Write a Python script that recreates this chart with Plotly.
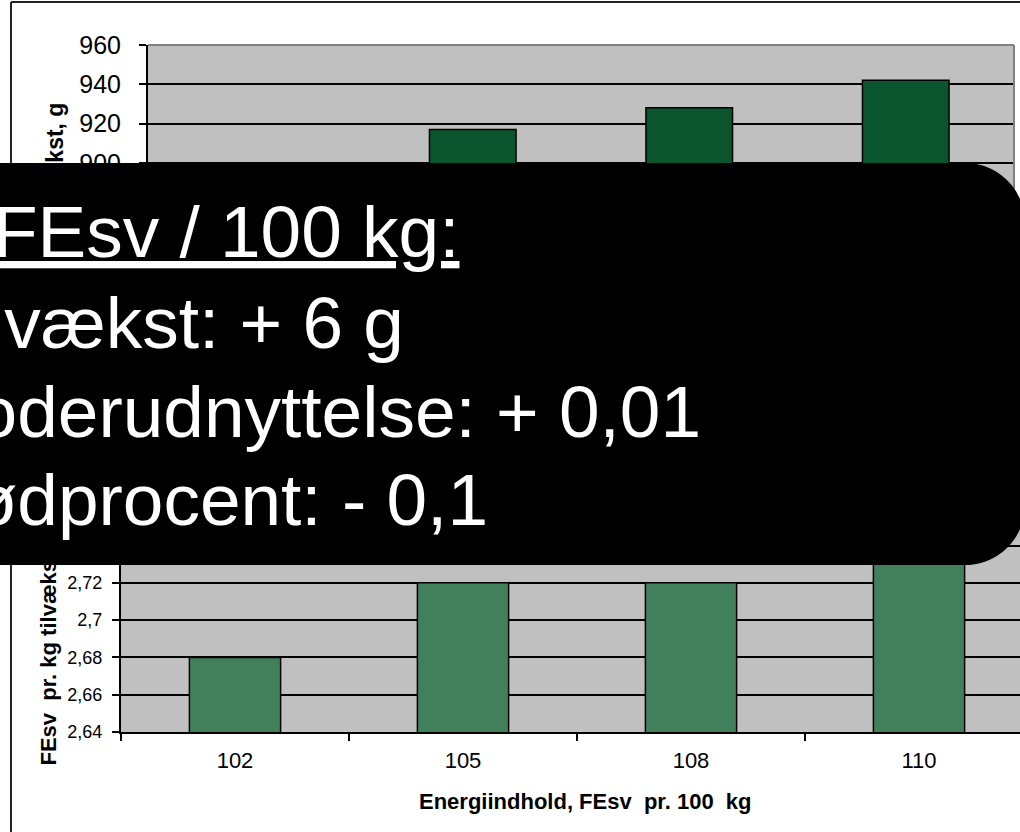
import plotly.graph_objects as go

W, H = 1020, 832

# ---- data ----
categories = ["102", "105", "108", "110"]
daily_gain = [894, 917, 928, 942]          # Daglig tilvækst, g
feed_per_kg = [2.68, 2.72, 2.72, 2.75]     # FEsv pr. kg tilvækst

gain_tickvals = [880, 900, 920, 940, 960]
feed_tickvals = [2.64, 2.66, 2.68, 2.70, 2.72, 2.74, 2.76, 2.78]
feed_ticktext = ["2,64", "2,66", "2,68", "2,7", "2,72", "2,74", "2,76", "2,78"]

top_ytitle = "Daglig tilvækst, g"
bottom_ytitle = "FEsv\u00a0 pr. kg tilvækst"
xtitle = "Energiindhold, FEsv\u00a0 pr. 100\u00a0 kg"

box_lines = [
    "<u>1 FEsv / 100 kg:</u>",
    "Tilvækst: + 6 g",
    "Foderudnyttelse: + 0,01",
    "Kødprocent: - 0,1",
]

FONT = "Liberation Sans, Arial, sans-serif"


def px(x):
    return x / W


def py(y):
    return 1 - y / H


fig = go.Figure()
fig.add_trace(go.Bar(x=categories, y=daily_gain, xaxis="x", yaxis="y",
                     marker=dict(color="#0B552E", line=dict(color="black", width=1.5)),
                     hoverinfo="skip"))
fig.add_trace(go.Bar(x=categories, y=feed_per_kg, xaxis="x2", yaxis="y2",
                     marker=dict(color="#41805A", line=dict(color="black", width=1.5)),
                     hoverinfo="skip"))

axis_common = dict(showline=True, linecolor="black", linewidth=2, zeroline=False,
                   tickcolor="black", tickwidth=1.5, ticklen=7, fixedrange=True,
                   automargin=False)

fig.update_layout(
    width=W, height=H,
    margin=dict(l=0, r=0, t=0, b=0, pad=0),
    paper_bgcolor="white", plot_bgcolor="#C0C0C0",
    showlegend=False, bargap=0.6,
    font=dict(family=FONT, color="black"),
    xaxis=dict(domain=[px(148), px(1014)], anchor="y", type="category",
               range=[-0.5, 3.5], showgrid=False, ticks="outside", tickson="boundaries",
               tickfont=dict(size=22), **axis_common),
    yaxis=dict(domain=[py(202), py(45)], anchor="x", range=[880, 960],
               tickvals=gain_tickvals, showgrid=True, gridcolor="black", gridwidth=1.5,
               ticks="outside", tickfont=dict(size=25), ticklabelstandoff=13, **axis_common),
    xaxis2=dict(domain=[px(121), 1], anchor="y2", type="category",
                range=[-0.5, -0.5 + (W - 121) / 228.0], showgrid=False,
                ticks="outside", tickson="boundaries", tickfont=dict(size=22),
                ticklabelstandoff=8, **axis_common),
    yaxis2=dict(domain=[py(732), py(471)], anchor="x2", range=[2.64, 2.78],
                tickvals=feed_tickvals, ticktext=feed_ticktext,
                showgrid=True, gridcolor="black", gridwidth=1.5,
                ticks="outside", tickfont=dict(size=18), ticklabelstandoff=6, **axis_common),
)

shapes = []
# outer chart frame
shapes.append(dict(type="line", xref="paper", yref="paper", x0=px(11), x1=px(11), y0=py(2), y1=py(840),
                   line=dict(color="#222", width=2), layer="above"))
shapes.append(dict(type="line", xref="paper", yref="paper", x0=px(11), x1=px(1030), y0=py(2), y1=py(2),
                   line=dict(color="#222", width=2), layer="above"))
# top plot-area border (top and right)
shapes.append(dict(type="line", xref="paper", yref="paper", x0=px(148), x1=px(1014), y0=py(45), y1=py(45),
                   line=dict(color="#808080", width=2), layer="above"))
shapes.append(dict(type="line", xref="paper", yref="paper", x0=px(1014), x1=px(1014), y0=py(45), y1=py(210),
                   line=dict(color="#808080", width=2), layer="above"))

# black rounded callout box
L, R, T, B, r = -40, 1025, 163, 565, 60
k = 0.5523 * r
path = (f"M {px(L)},{py(T)} L {px(R - r)},{py(T)} "
        f"C {px(R - r + k)},{py(T)} {px(R)},{py(T + r - k)} {px(R)},{py(T + r)} "
        f"L {px(R)},{py(B - r)} "
        f"C {px(R)},{py(B - r + k)} {px(R - r + k)},{py(B)} {px(R - r)},{py(B)} "
        f"L {px(L)},{py(B)} Z")
shapes.append(dict(type="path", xref="paper", yref="paper", path=path,
                   fillcolor="black", line=dict(width=0), layer="above"))
fig.update_layout(shapes=shapes)

annotations = []
# axis titles
annotations.append(dict(text=f"<b>{xtitle}</b>", xref="paper", yref="paper", x=px(585), y=py(801),
                        xanchor="center", yanchor="middle", showarrow=False,
                        font=dict(size=22, family=FONT, color="black")))
annotations.append(dict(text=f"<b>{top_ytitle}</b>", xref="paper", yref="paper", x=px(55), y=py(198),
                        xanchor="center", yanchor="middle", showarrow=False, textangle=-90,
                        font=dict(size=23, family=FONT, color="black")))
annotations.append(dict(text=f"<b>{bottom_ytitle}</b>", xref="paper", yref="paper", x=px(47.5), y=py(659),
                        xanchor="center", yanchor="middle", showarrow=False, textangle=-90,
                        font=dict(size=22, family=FONT, color="black")))
# mask continuing the callout box over the title area
annotations.append(dict(text=" ", xref="paper", yref="paper", x=px(-10), y=py(T),
                        xanchor="left", yanchor="top", showarrow=False,
                        width=130, height=B - T, bgcolor="black", borderpad=0, borderwidth=0))
# callout text
line_x = [-70, -72, -70, -78]
line_y = [231, 322, 411, 499]
for txt, lx, ly in zip(box_lines, line_x, line_y):
    annotations.append(dict(text=txt, xref="paper", yref="paper", x=px(lx), y=py(ly),
                            xanchor="left", yanchor="middle", showarrow=False,
                            font=dict(size=73, family=FONT, color="white")))
fig.update_layout(annotations=annotations)

fig.write_html("out.html", config={"displayModeBar": False})
